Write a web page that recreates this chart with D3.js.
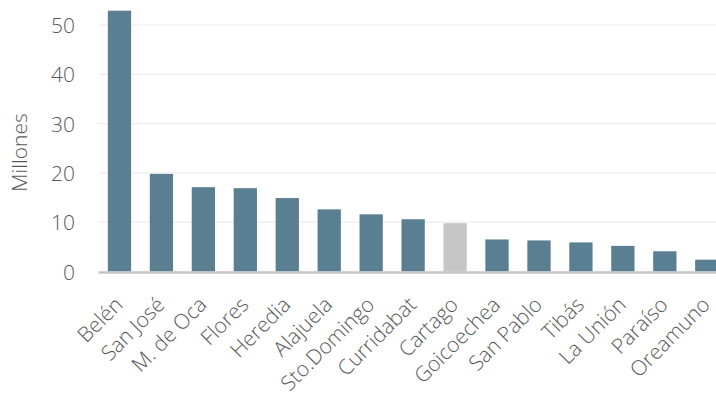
<!DOCTYPE html>
<html>
<head>
<meta charset="utf-8">
<script src="https://cdn.jsdelivr.net/npm/d3@7"></script>
<style>
  html, body { margin: 0; padding: 0; background: #ffffff; }
  svg { display: block; }
  text { font-family: "Open Sans", "Liberation Sans", sans-serif; font-weight: 300; fill: #595959; }
</style>
</head>
<body>
<svg id="chart" width="716" height="399"></svg>
<script>
// Cantones y montos (millones)
const categories = ["Belén", "San José", "M. de Oca", "Flores", "Heredia", "Alajuela", "Sto.Domingo",
  "Curridabat", "Cartago", "Goicoechea", "San Pablo", "Tibás", "La Unión", "Paraíso", "Oreamuno"];
const values = [52.9, 19.8, 17.1, 16.9, 14.9, 12.6, 11.6, 10.6, 9.8, 6.5, 6.3, 5.9, 5.2, 4.1, 2.4];
const highlighted = ["Cartago"];
const yTicks = [0, 10, 20, 30, 40, 50];
const yLabel = "Millones";

const svg = d3.select("#chart");
const left = 98.5, baseY = 271.5, topY = 25;
const step = 41.95;

const x = d3.scaleBand()
  .domain(categories)
  .range([left, left + categories.length * step])
  .paddingInner(0.445)
  .paddingOuter(0.2225);

const y = d3.scaleLinear().domain([0, 50]).range([baseY, topY]);

// Líneas de cuadrícula
svg.append("g")
  .selectAll("line")
  .data(yTicks.filter(d => d > 0))
  .join("line")
  .attr("x1", left).attr("x2", 716)
  .attr("y1", d => y(d)).attr("y2", d => y(d))
  .attr("stroke", "#ececec").attr("stroke-width", 1.2);

// Barras
svg.append("g")
  .selectAll("rect")
  .data(categories)
  .join("rect")
  .attr("x", d => x(d))
  .attr("width", x.bandwidth())
  .attr("y", (d, i) => y(values[i]))
  .attr("height", (d, i) => baseY - y(values[i]))
  .attr("fill", d => highlighted.includes(d) ? "#c6c6c6" : "#5a7e92");

// Eje horizontal
svg.append("line")
  .attr("x1", left).attr("x2", 716)
  .attr("y1", baseY + 1).attr("y2", baseY + 1)
  .attr("stroke", "#c4c4c4").attr("stroke-width", 2.5);

// Eje vertical (solo etiquetas)
const yAxis = d3.axisLeft(y).tickValues(yTicks).tickSize(0).tickPadding(0);
const gy = svg.append("g").attr("transform", "translate(75,0)").call(yAxis);
gy.select(".domain").remove();
gy.attr("font-family", null);
gy.selectAll("text")
  .style("font-size", "21px")
  .style("fill", "#595959")
  .attr("dy", "0.36em");

// Título del eje Y
svg.append("text")
  .attr("transform", "translate(27,152.5) rotate(-90)")
  .attr("text-anchor", "middle")
  .style("font-size", "21px")
  .text(yLabel);

// Etiquetas de categorías rotadas
svg.append("g")
  .selectAll("text")
  .data(categories)
  .join("text")
  .attr("text-anchor", "end")
  .attr("transform", d => {
    const cx = x(d) + x.bandwidth() / 2 + 4.5;
    return `translate(${cx},306) rotate(-45)`;
  })
  .style("font-size", "21px")
  .text(d => d);
</script>
</body>
</html>
